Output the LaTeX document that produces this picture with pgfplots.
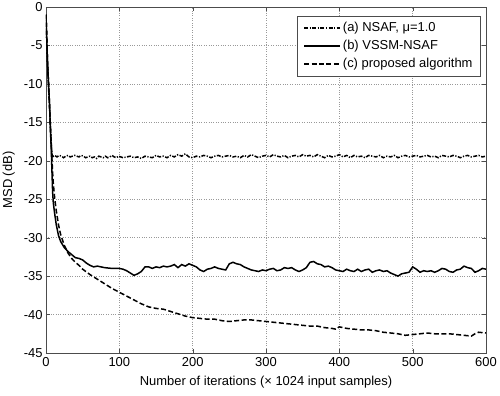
\documentclass[border=0pt]{standalone}
\usepackage{fontspec}
\setmainfont{Liberation Sans}
\usepackage{pgfplots}
\pgfplotsset{compat=1.18}
\newcommand{\fs}{\fontsize{13}{15}\selectfont}
\begin{document}
\fs
\begin{tikzpicture}
\path[use as bounding box] (-46bp,-43bp) rectangle (454bp,353bp);
\begin{axis}[
  scale only axis, width=440bp, height=346bp,
  xmin=0, xmax=600, ymin=-45, ymax=0,
  xtick={0,100,...,600}, ytick={-45,-40,...,0},
  grid=major, grid style={dotted, gray!80, line width=0.5pt},
  tick align=inside, major tick length=4bp,
  axis line style={black!70, line width=0.6pt},
  tick style={black!70},
  /pgf/number format/assume math mode=true,
  ticklabel style={font=\fs},
  yticklabel style={xshift=1bp},
  xlabel={Number of iterations (× 1024 input samples)},
  ylabel={MSD (dB)},
  xlabel style={yshift=-1bp},
  label style={font=\fs},
  legend style={at={(rel axis cs:0.988,0.975)}, anchor=north east,
    font=\fs, draw=black!70,
    cells={anchor=west}, inner xsep=6bp, inner ysep=4.5bp, row sep=2.5bp},
  legend image code/.code={\draw[#1, line width=1.8pt] (2bp,0bp) -- (38bp,0bp);},
]
\addplot[black, line width=1.5pt, dash pattern=on 4pt off 1.5pt on 1.2pt off 1.5pt] coordinates {
(0,-1)(1,-4)(2,-7)(3,-9.5)(4,-11.5)(5,-13.5)(6,-15.5)(7,-17.5)(8,-19)(9,-19.6)(10,-19.4)
(12,-19.3)(15,-19.5)(18,-19.3)(21,-19.4)(24,-19.6)(27,-19.4)(30,-19.3)(33,-19.5)(36,-19.4)
(39,-19.3)(42,-19.4)(45,-19.5)(48,-19.3)(51,-19.4)(54,-19.6)(57,-19.5)(60,-19.4)(63,-19.6)
(66,-19.5)(69,-19.7)(72,-19.4)(75,-19.5)(78,-19.6)(81,-19.4)(84,-19.6)(87,-19.5)(90,-19.3)
(93,-19.5)(96,-19.6)(99,-19.4)(102,-19.5)
(105,-19.6)(110,-19.5)(115,-19.4)(120,-19.6)(125,-19.5)(130,-19.7)(135,-19.4)(140,-19.5)
(145,-19.6)(150,-19.3)(155,-19.5)(160,-19.4)(165,-19.6)(170,-19.3)(175,-19.5)(180,-19.2)
(185,-19.4)(190,-19.1)(195,-19.5)(200,-19.6)(205,-19.4)(210,-19.5)(215,-19.3)(220,-19.4)
(225,-19.6)(230,-19.4)(235,-19.3)(240,-19.5)(245,-19.4)(250,-19.3)(255,-19.5)(260,-19.4)
(265,-19.6)(270,-19.3)(275,-19.5)(280,-19.2)(285,-19.4)(290,-19.6)(295,-19.4)(300,-19.3)
(305,-19.5)(310,-19.2)(315,-19.4)(320,-19.5)(325,-19.3)(330,-19.6)(335,-19.4)(340,-19.3)
(345,-19.5)(350,-19.2)(355,-19.4)(360,-19.3)(365,-19.5)(370,-19.2)(375,-19.4)(380,-19.6)
(385,-19.3)(390,-19.5)(395,-19.4)(400,-19.2)(405,-19.5)(410,-19.3)(415,-19.6)(420,-19.3)
(425,-19.5)(430,-19.4)(435,-19.6)(440,-19.3)(445,-19.4)(450,-19.5)(455,-19.3)(460,-19.6)
(465,-19.4)(470,-19.5)(475,-19.3)(480,-19.6)(485,-19.4)(490,-19.3)(495,-19.5)(500,-19.4)
(505,-19.3)(510,-19.5)(515,-19.4)(520,-19.3)(525,-19.5)(530,-19.4)(535,-19.6)(540,-19.3)
(545,-19.4)(550,-19.5)(555,-19.3)(560,-19.4)(565,-19.6)(570,-19.4)(575,-19.3)(580,-19.5)
(585,-19.4)(590,-19.3)(595,-19.5)(600,-19.4)
};
\addlegendentry{(a) NSAF, μ=1.0}
\addplot[black, line width=1.5pt, solid] coordinates {
(0,-1)(1,-4)(2,-7)(3,-9)(4,-11)(5,-13)(6,-16)(7,-18)(8,-21)(9,-24)(10,-25.5)(12,-27)
(14,-28.3)(17,-29.7)(20,-30.5)(25,-31.3)(30,-31.8)(35,-32.2)(40,-32.6)(45,-32.7)(50,-32.9)
(55,-33.3)(60,-33.6)(65,-33.8)(70,-33.7)(75,-33.8)(80,-33.9)(90,-34.0)(100,-34.0)(105,-34.1)
(110,-34.3)(115,-34.6)(120,-34.9)(125,-34.7)(130,-34.4)(135,-33.8)(140,-33.8)(145,-34.0)
(150,-33.8)(155,-33.9)(160,-33.7)(165,-33.8)(170,-33.7)(175,-33.5)(180,-33.9)(185,-33.5)
(190,-33.7)(195,-33.4)(200,-33.6)(205,-33.8)(210,-34.2)(215,-34.4)(220,-34.1)(225,-34.0)
(230,-33.8)(235,-34.0)(240,-34.1)(245,-34.2)(250,-33.4)(255,-33.2)(260,-33.4)(265,-33.5)
(270,-33.8)(275,-34.0)(280,-34.2)(285,-34.3)(290,-34.4)(295,-34.2)(300,-34.3)(305,-34.1)
(310,-34.0)(315,-34.3)(320,-34.2)(325,-33.9)(330,-34.0)(335,-33.9)(340,-34.2)(345,-34.4)
(350,-34.2)(355,-33.9)(360,-33.2)(365,-33.1)(370,-33.4)(375,-33.5)(380,-33.8)(385,-33.7)
(390,-33.9)(395,-34.2)(400,-34.3)(405,-34.4)(410,-34.1)(415,-34.3)(420,-34.4)(425,-34.1)
(430,-34.4)(435,-34.2)(440,-34.1)(445,-34.5)(450,-34.3)(455,-34.2)(460,-34.4)(465,-34.3)
(470,-34.6)(475,-34.8)(480,-35.0)(485,-34.7)(490,-34.6)(495,-34.5)(500,-33.8)(505,-34.1)
(510,-34.5)(515,-34.3)(520,-34.4)(525,-34.3)(530,-34.5)(535,-34.3)(540,-34.0)(545,-34.1)
(550,-34.4)(555,-34.5)(560,-34.2)(565,-34.1)(570,-33.7)(575,-33.9)(580,-34.0)(585,-34.5)
(590,-34.3)(595,-34.0)(600,-34.1)
};
\addlegendentry{(b) VSSM-NSAF}
\addplot[black, line width=1.5pt, dash pattern=on 5pt off 2.5pt] coordinates {
(0,-1)(1,-4)(2,-7)(3,-9)(4,-11)(5,-13)(6,-15.5)(7,-17.5)(8,-19.5)(9,-21.5)(10,-23)(12,-25)
(14,-26.5)(17,-28.3)(20,-29.6)(25,-31)(30,-32)(35,-32.7)(40,-33.2)(45,-33.6)(50,-34.1)
(60,-34.8)(70,-35.4)(80,-36.0)(90,-36.6)(100,-37.1)(110,-37.6)(120,-38.1)(130,-38.6)
(140,-39.0)(150,-39.2)(160,-39.3)(170,-39.6)(180,-39.9)(190,-40.2)(200,-40.4)(210,-40.5)
(220,-40.6)(230,-40.6)(240,-40.8)(250,-40.9)(260,-40.8)(270,-40.7)(280,-40.7)(290,-40.8)
(300,-40.9)(310,-41.0)(320,-41.1)(330,-41.2)(340,-41.3)(350,-41.4)(360,-41.5)(370,-41.5)
(380,-41.7)(390,-41.8)(395,-41.9)(400,-41.6)(410,-41.8)(420,-41.9)(430,-42.0)(440,-42.0)
(450,-42.1)(460,-42.3)(470,-42.4)(480,-42.5)(490,-42.7)(500,-42.6)(510,-42.5)(520,-42.4)
(530,-42.5)(540,-42.5)(550,-42.5)(560,-42.6)(570,-42.7)(580,-42.8)(585,-42.5)(590,-42.3)
(600,-42.4)
};
\addlegendentry{(c) proposed algorithm}
\end{axis}
\end{tikzpicture}
\end{document}
